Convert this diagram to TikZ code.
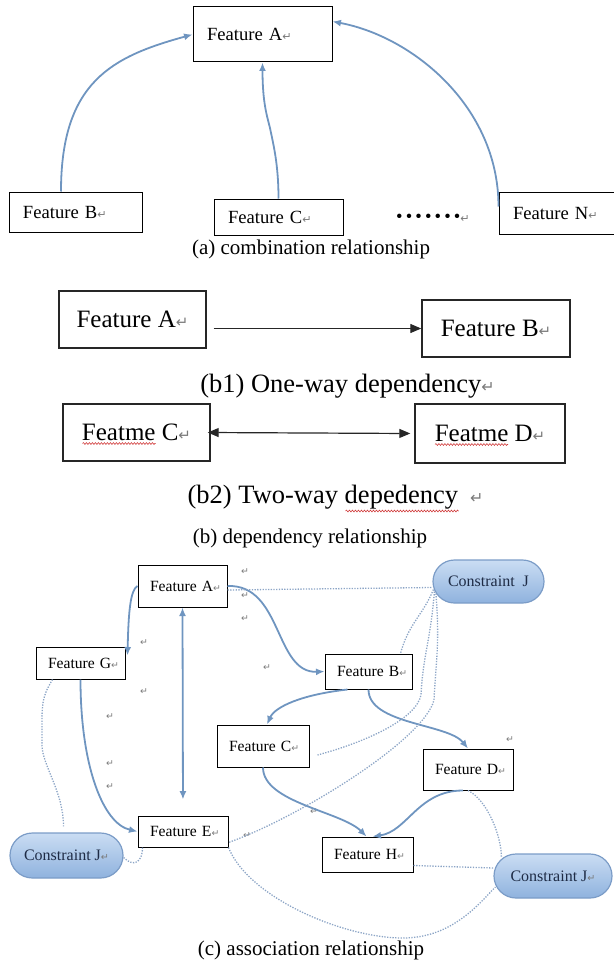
\documentclass[tikz,border=0pt]{standalone}
\usepackage{fontspec}
\setmainfont{Liberation Serif}
\newfontfamily\retfont{DejaVu Sans}
\usepackage{graphicx}
\usepackage{xcolor}
\usetikzlibrary{arrows.meta,shapes.misc,decorations.pathmorphing}
\definecolor{linkB}{HTML}{6F95C0}
\definecolor{dotB}{HTML}{8CA5C6}
\definecolor{consTop}{HTML}{CADDF3}
\definecolor{consBot}{HTML}{8FB2DE}
\definecolor{consEdge}{HTML}{7B9CC7}
\definecolor{consText}{HTML}{1E2B45}
\definecolor{retgray}{HTML}{7A7A7A}
\definecolor{spellred}{HTML}{D03A3A}
\newcommand\rt{{\retfont\color{retgray}\scalebox{0.6}{↵}}}

\begin{document}
\begin{tikzpicture}[x=1pt, y=-1pt,
  abox/.style={draw, line width=1pt, inner xsep=14pt, inner ysep=0pt, align=left,
               font=\fontsize{18.6}{21}\selectfont},
  bbox/.style={draw=black!85, line width=1.4pt, inner sep=0pt, minimum height=57pt,
               font=\fontsize{25}{28}\selectfont},
  cbox/.style={draw, line width=1pt, inner xsep=12pt, inner ysep=0pt, align=left,
               font=\fontsize{15.6}{18}\selectfont},
  cons/.style={rounded rectangle, draw=consEdge, line width=1.2pt, top color=consTop,
               bottom color=consBot, text=consText, inner sep=0pt, font=\fontsize{16}{18}\selectfont},
  caption/.style={inner sep=0pt, font=\fontsize{21}{24}\selectfont},
  subcap/.style={inner sep=0pt, font=\fontsize{26.5}{30}\selectfont},
  retmark/.style={inner sep=0pt, font=\fontsize{15.6}{18}\selectfont},
  link/.style={-{Latex[length=8.5pt,width=7pt]}, line width=1.8pt, linkB},
  dep/.style={-{Triangle[length=11pt,width=9pt]}, line width=1.2pt, black!85},
  assoc/.style={line width=1.3pt, dotB, dash pattern=on 1.3pt off 1.4pt},
  spell/.style={spellred, line width=0.6pt, decorate,
                decoration={snake, amplitude=0.9pt, segment length=3pt}}
]
  \useasboundingbox (0,0) rectangle (613,966);

  % (a)
  \node[abox, text width=111pt, minimum height=55pt] (aA) at (262.5,34.5) {\mbox{Feature A\rt}};
  \node[abox, text width=105pt, minimum height=40pt] (aB) at (75.5,212) {\mbox{Feature B\rt}};
  \node[abox, text width=101pt, minimum height=36pt] (aC) at (278.5,217) {\mbox{Feature C\rt}};
  \node[abox, text width=91pt, minimum height=42pt] (aN) at (558.5,213) {\mbox{Feature N\rt}};
  \node[inner sep=0pt, font=\fontsize{18.6}{21}\selectfont] (aDots) at (433,218)
        {•\,•\,•\,•\,•\,•\,•\rt};
  \node[caption] (capA) at (311,249) {(a) combination relationship};
  \draw[link] ([xshift=-14.5pt]aB.north) .. controls +(0,-110) and +(-80,22) .. (aA.west);
  \draw[link] (aC.north) .. controls +(0,-35) and +(3,15) .. (270,128)
        .. controls +(-3,-12) and +(0,40) .. (aA.south);
  \draw[link] ([yshift=-15pt]aN.north west) .. controls +(0,-100) and +(80,15) .. ([yshift=13pt]aA.east);

  % (b)
  \node[bbox, minimum width=147pt] (bA) at (132.5,319.5) {Feature A\rt};
  \node[bbox, minimum width=148pt] (bB) at (496,328.5) {Feature B\rt};
  \draw[dep] ([xshift=7pt]bA.east |- bB.west) -- (bB.west);
  \node[subcap] (capB1) at (347.5,386) {(b1) One-way dependency\rt};
  \node[bbox, minimum width=147pt] (bC) at (136.5,432.5) {Featme C\rt};
  \node[bbox, minimum width=150pt, minimum height=59pt] (bD) at (490,433.5) {Featme D\rt};
  \draw[dep, {Triangle[length=11pt,width=9pt]}-{Triangle[length=11pt,width=9pt]}]
        ([xshift=-3pt]bC.east) -- ([xshift=-4pt]bD.west);
  \node[subcap] (capB2) at (335.5,497) {(b2) Two-way depedency\hspace{12pt}\rt};
  \node[caption] (capB) at (310,538) {(b) dependency relationship};
  \draw[spell] ([xshift=-54pt,yshift=-11pt]bC.center) -- ++(73,0);
  \draw[spell] ([xshift=-55pt,yshift=-11pt]bD.center) -- ++(73,0);
  \draw[spell] ([xshift=10pt,yshift=-14pt]capB2.center) -- ++(113,0);

  % (c)
  \node[cbox, text width=65pt, minimum height=42pt] (cA) at (182.5,586) {\mbox{Feature A\rt}};
  \node[cbox, text width=65pt, minimum height=32pt] (cG) at (80.5,663) {\mbox{Feature G\rt}};
  \node[cbox, text width=63pt, minimum height=35pt] (cB) at (368.5,671.5) {\mbox{Feature B\rt}};
  \node[cbox, text width=68pt, minimum height=42pt] (cC) at (263,746) {\mbox{Feature C\rt}};
  \node[cbox, text width=66pt, minimum height=41pt] (cD) at (468,769.5) {\mbox{Feature D\rt}};
  \node[cbox, text width=66pt, minimum height=31pt] (cE) at (183,831.5) {\mbox{Feature E\rt}};
  \node[cbox, text width=67pt, minimum height=35pt] (cH) at (367.5,854.5) {\mbox{Feature H\rt}};
  \node[cons, minimum width=111pt, minimum height=43pt] (cJt) at (488.5,581.5) {Constraint\ \ J};
  \node[cons, minimum width=113pt, minimum height=45pt] (cJl) at (66.5,855.5) {Constraint J\rt};
  \node[cons, minimum width=118pt, minimum height=44pt] (cJr) at (553,876) {Constraint J\rt};
  \node[caption] (capC) at (311,950) {(c) association relationship};
  \foreach \mx/\my [count=\k] in {245/572,245/596,245/619,144/643,267/668,144/692,
                                  110/717,110/764,110/787,314/812,247/836,510/740}
    \node[retmark] (mk\k) at (\mx,\my) {\rt};

  \draw[link] (cA.west) .. controls +(-7,4) and +(1,-45) .. ([xshift=2pt,yshift=-9pt]cG.north east);
  \draw[link, {Latex[length=8.5pt,width=7pt]}-{Latex[length=8.5pt,width=7pt]}, shorten >=16pt]
        (cA.south) -- (cE.north);
  \draw[link] (cA.east) .. controls +(55,-2) and +(-50,2) .. (cB.west);
  \draw[link] ([xshift=-21pt]cB.south) .. controls +(-45,5) and +(8,-18) .. ([xshift=4pt]cC.north);
  \draw[link] (cB.south) .. controls +(0,35) and +(-20,-25) .. (cD.north);
  \draw[link] (cC.south) .. controls +(0,35) and +(-25,-25) .. ([xshift=-1pt]cH.north);
  \draw[link] ([xshift=-5pt]cD.south) .. controls +(-45,0) and +(35,-5) .. ([xshift=5pt]cH.north);
  \draw[link] (cG.south) .. controls +(0,85) and +(-35,-8) .. (cE.west);

  \draw[assoc] ([yshift=-4pt]cA.east) -- ([yshift=-6pt]cJt.west);
  \draw[assoc] ([xshift=1pt,yshift=-8pt]cJt.west) .. controls +(-10,25) and +(8,-30) .. ([xshift=-12pt]cB.north east);
  \draw[assoc] ([xshift=2pt,yshift=-10pt]cJt.west) .. controls +(-4,50) and +(2,-40) .. (421,695)
        .. controls +(-5,25) and +(45,-12) .. ([xshift=8pt,yshift=-9pt]cC.east);
  \draw[assoc] ([xshift=3.5pt,yshift=-12pt]cJt.west) .. controls +(4,50) and +(2,-40) .. (434,700)
        .. controls +(-10,40) and +(70,-25) .. ([yshift=-11pt]cE.east);
  \draw[assoc] (cE.south east) .. controls +(20,50) and +(-60,0) .. (403,938)
        .. controls +(50,0) and +(-15,15) .. ([xshift=2pt,yshift=-11pt]cJr.west);
  \draw[assoc] ([yshift=-11pt]cH.east) -- ([yshift=8pt]cJr.west);
  \draw[assoc] (cD.south) .. controls +(20,10) and +(0,-20) .. ([xshift=8pt,yshift=19pt]cJr.west);
  \draw[assoc] ([xshift=-28pt]cG.south) .. controls +(-12,20) and +(0,-40) .. (42,745)
        .. controls +(0,20) and +(0,-35) .. ([xshift=-3pt,yshift=6pt]cJl.north);
  \draw[assoc] ([yshift=-2pt]cJl.east) .. controls +(10,10) and +(0,15) .. ([xshift=5pt]cE.south west);
\end{tikzpicture}
\end{document}
